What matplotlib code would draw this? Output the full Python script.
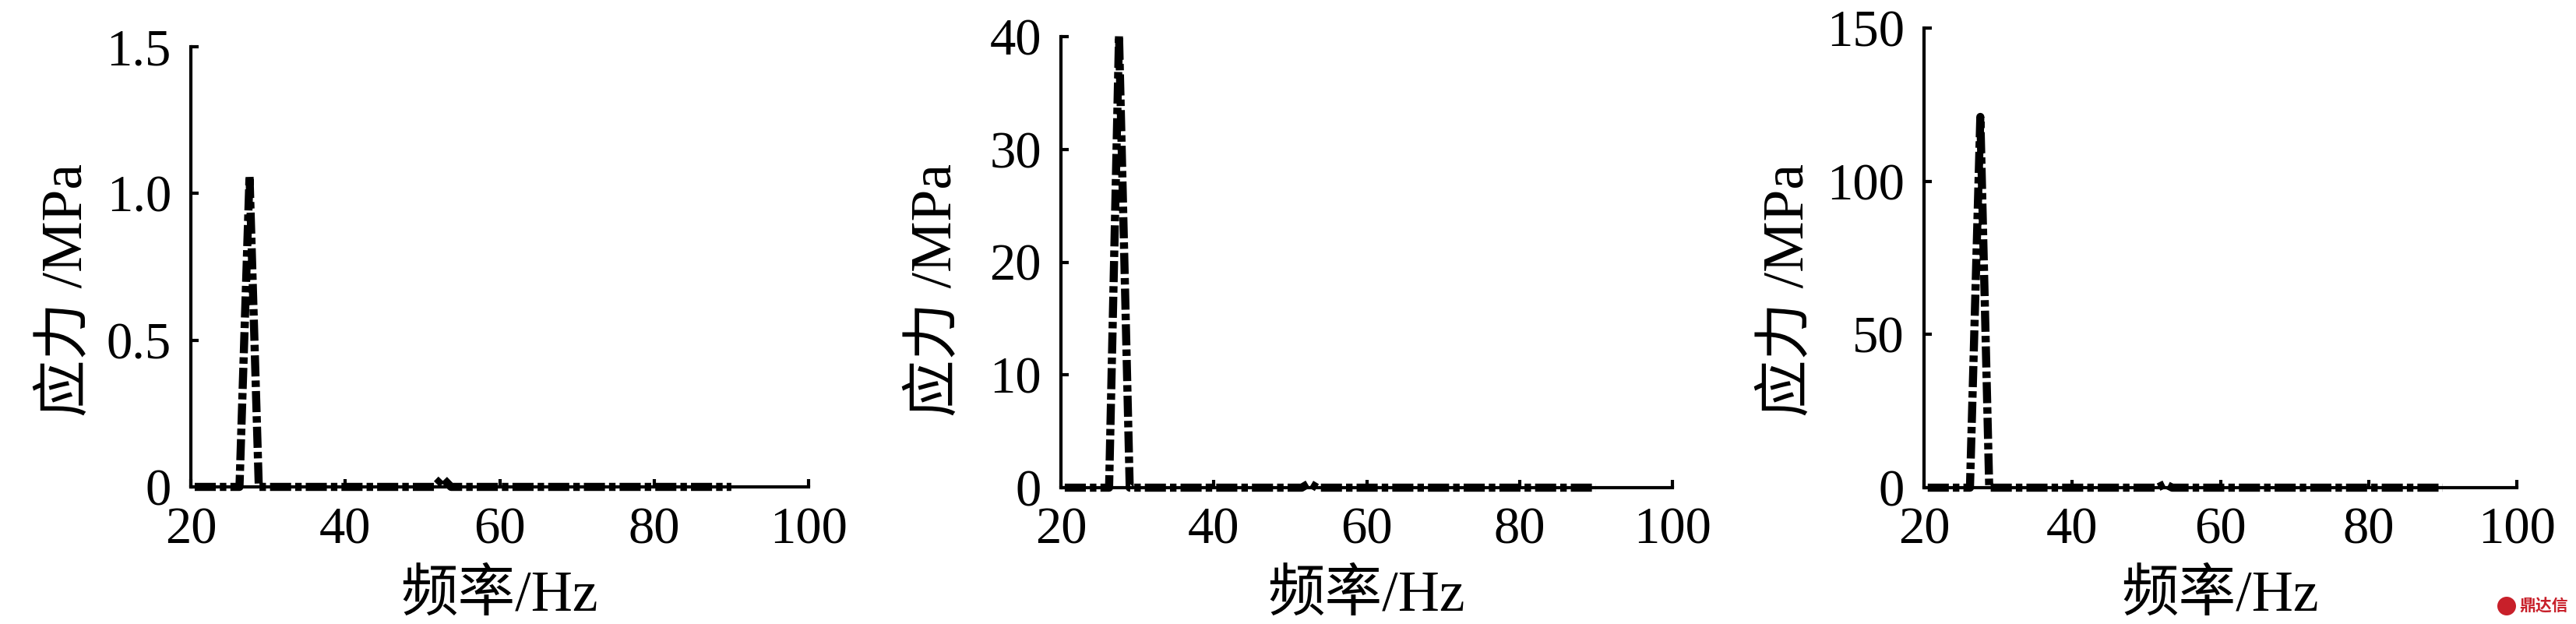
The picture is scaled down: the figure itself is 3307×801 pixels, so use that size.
import matplotlib
matplotlib.use("Agg")
import matplotlib.pyplot as plt
from matplotlib.patches import Ellipse

# ---------------- data ----------------
freq_1 = [20.5, 26.3, 27.6, 28.8, 51.5, 52.6, 53.7, 90.0]
stress_1 = [0.0, 0.0, 1.06, 0.0, 0.0, 0.03, 0.0, 0.0]

freq_2 = [20.5, 26.3, 27.6, 29.0, 51.5, 52.5, 53.5, 90.0]
stress_2 = [0.0, 0.0, 40.1, 0.0, 0.0, 0.4, 0.0, 0.0]

freq_3 = [20.5, 26.2, 27.6, 28.8, 51.5, 52.5, 53.5, 90.0]
stress_3 = [0.0, 0.0, 121.0, 0.0, 0.0, 1.2, 0.0, 0.0]

x_ticks = [20, 40, 60, 80, 100]
x_ticklabels = ["20", "40", "60", "80", "100"]

y_ticks_1 = [0, 0.5, 1.0, 1.5]
y_ticklabels_1 = ["0", "0.5", "1.0", "1.5"]
y_ticks_2 = [0, 10, 20, 30, 40]
y_ticklabels_2 = ["0", "10", "20", "30", "40"]
y_ticks_3 = [0, 50, 100, 150]
y_ticklabels_3 = ["0", "50", "100", "150"]

xlabel = "频率/Hz"
ylabel = "应力 /MPa"

# ---------------- style ----------------
plt.rcParams["font.family"] = ["Liberation Serif", "Noto Sans CJK SC"]
plt.rcParams["axes.unicode_minus"] = False

W, H = 3307, 801
DPI = 100
fig = plt.figure(figsize=(W / DPI, H / DPI), dpi=DPI)
fig.patch.set_facecolor("white")

# axes boxes in pixels: left, right, top, bottom
boxes = [
    (245, 1038, 60, 625),
    (1362, 2147, 47, 626),
    (2470, 3231, 36, 626),
]
ylabel_pos = [(86, 372), (1202, 372), (2296, 372)]

series = [
    (freq_1, stress_1, y_ticks_1, y_ticklabels_1),
    (freq_2, stress_2, y_ticks_2, y_ticklabels_2),
    (freq_3, stress_3, y_ticks_3, y_ticklabels_3),
]

TICK_FS = 48
LABEL_FS = 53

for (L, R, T, B), (fx, sy, yt, ytl), (ylx, yly) in zip(boxes, series, ylabel_pos):
    ax = fig.add_axes([L / W, (H - B) / H, (R - L) / W, (B - T) / H])
    ax.plot(fx, sy, color="black", linewidth=7.5,
            linestyle=(0, (2.6, 0.5, 0.8, 0.5)),
            dash_capstyle="butt", solid_capstyle="butt", clip_on=False, zorder=3)
    ax.set_xlim(20, 100)
    ax.set_ylim(yt[0], yt[-1])
    ax.set_xticks(x_ticks)
    ax.set_xticklabels(x_ticklabels)
    ax.set_yticks(yt)
    ax.set_yticklabels(ytl)
    for s in ("top", "right"):
        ax.spines[s].set_visible(False)
    for s in ("left", "bottom"):
        ax.spines[s].set_linewidth(3)
    ax.tick_params(axis="both", direction="in", length=7, width=3,
                   labelsize=TICK_FS)
    ax.tick_params(axis="x", pad=18)
    ax.tick_params(axis="y", pad=18)
    ax.set_xlabel(xlabel, fontsize=LABEL_FS)
    ax.set_ylabel(ylabel, fontsize=LABEL_FS)
    ax.xaxis.set_label_coords(((L + R) / 2) / W, (H - 766) / H,
                              transform=fig.transFigure)
    ax.yaxis.set_label_coords(ylx / W, (H - yly) / H,
                              transform=fig.transFigure)
    ax.xaxis.label.set_va("center")
    ax.yaxis.label.set_va("center")
    ax.patch.set_alpha(0)

# watermark
fig.patches.append(Ellipse((3218 / W, (H - 778) / H), 24 / W, 24 / H,
                           transform=fig.transFigure, facecolor="#c8202a",
                           edgecolor="none"))
fig.text(3297 / W, (H - 778) / H, "鼎达信", color="#c8202a", fontsize=15,
         fontweight="bold", ha="right", va="center",
         family=["Noto Sans CJK SC"])

fig.savefig("out.png", dpi=DPI, facecolor="white")
